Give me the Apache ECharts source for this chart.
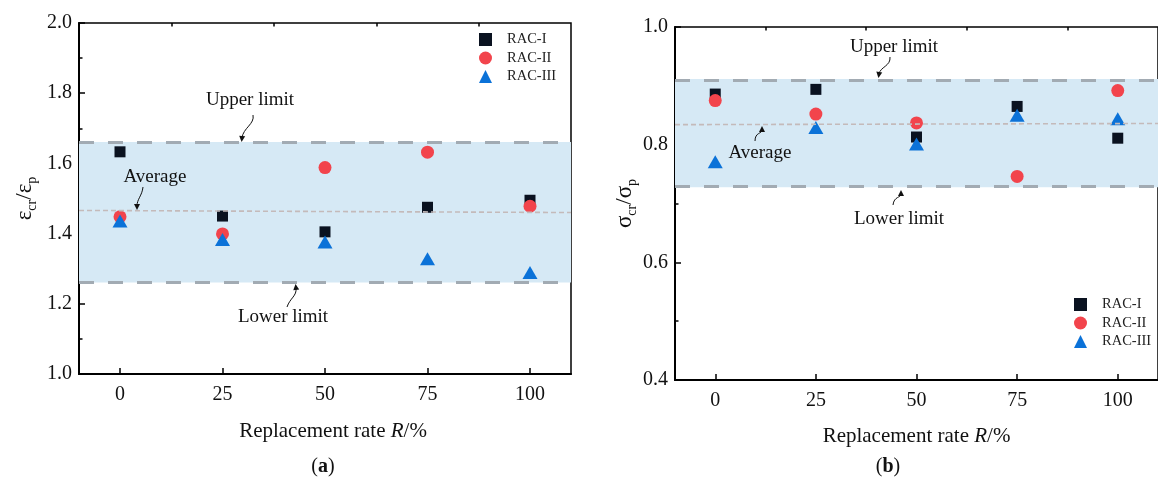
<html>
<head>
    <meta charset="UTF-8">
    <title>RAC ratios</title>
    <script src="https://cdn.jsdelivr.net/npm/echarts@6/dist/echarts.min.js"></script>
</head>

<body style="margin:0;background:#fff;">
    <div id="container" style="width: 1158px;height:487px;"></div>
</body>

<script>
    // replacement rates (x) and measured ratios
    var rates = [0, 25, 50, 75, 100];
    // (a) epsilon_cr / epsilon_p
    var racI_a = [1.633, 1.450, 1.405, 1.475, 1.495];
    var racII_a = [1.448, 1.399, 1.588, 1.632, 1.478];
    var racIII_a = [1.436, 1.383, 1.376, 1.328, 1.289];
    var limits_a = [1.265, 1.658];
    var average_a = [[-10, 1.466], [110, 1.460]];
    // (b) sigma_cr / sigma_p
    var racI_b = [0.886, 0.894, 0.813, 0.865, 0.811];
    var racII_b = [0.875, 0.852, 0.837, 0.746, 0.892];
    var racIII_b = [0.771, 0.829, 0.801, 0.850, 0.844];
    var limits_b = [0.730, 0.910];
    var average_b = [[-10, 0.834], [110, 0.836]];
    var minorX = [12.5, 37.5, 62.5, 87.5];

    var FONT = '"Liberation Serif", "DejaVu Serif", serif';
    var colI = '#0a1220', colII = '#f2444c', colIII = '#0b72d8';

    function pts(ys) {
        return rates.map(function (r, i) { return [r, ys[i]]; });
    }

    function xAxes(grid, nameGap, pad) {
        return [{
            type: 'value', gridIndex: grid, min: -10, max: 110,
            splitLine: { show: false },
            axisLine: { onZero: false, lineStyle: { color: '#000', width: 2 } },
            axisTick: { inside: true, length: 6, customValues: rates, lineStyle: { color: '#000', width: 1.5 } },
            axisLabel: { customValues: rates, margin: 11, fontFamily: FONT, fontSize: 20, color: '#111' },
            name: '{n|Replacement rate }{i|R}{n|/%}',
            nameLocation: 'middle', nameGap: nameGap,
            nameTextStyle: {
                padding: pad,
                rich: {
                    n: { fontFamily: FONT, fontSize: 21, color: '#111' },
                    i: { fontFamily: FONT, fontSize: 21, fontStyle: 'italic', color: '#111' }
                }
            }
        }, {
            type: 'value', gridIndex: grid, min: -10, max: 110,
            splitLine: { show: false },
            axisLine: { show: false, onZero: false },
            axisTick: { inside: true, length: 3.5, customValues: minorX, lineStyle: { color: '#000', width: 1.5 } },
            axisLabel: { show: false }
        }];
    }

    function yAxis(grid, min, max, sym, gap) {
        return {
            type: 'value', gridIndex: grid, min: min, max: max, interval: 0.2,
            splitLine: { show: false },
            axisLine: { show: true, onZero: false, lineStyle: { color: '#000', width: 2 } },
            axisTick: { inside: true, length: 6, lineStyle: { color: '#000', width: 1.5 } },
            minorTick: { show: true, splitNumber: 2, length: 3.5, lineStyle: { color: '#000', width: 1.5 } },
            axisLabel: { margin: 7, fontFamily: FONT, fontSize: 20, color: '#111',
                formatter: function (v) { return v.toFixed(1); } },
            name: '{g|' + sym + '}{s|cr}{g|/' + sym + '}{s|p}',
            nameLocation: 'middle', nameRotate: 90, nameGap: gap,
            nameTextStyle: {
                rich: {
                    g: { fontFamily: FONT, fontSize: 23, color: '#111', lineHeight: 24, verticalAlign: 'bottom' },
                    s: { fontFamily: FONT, fontSize: 14, color: '#111', lineHeight: 14, verticalAlign: 'bottom', padding: [0, 0, -3, 0] }
                }
            }
        };
    }

    function bandSeries(xi, yi, lim, avg) {
        return [{
            type: 'line', xAxisIndex: xi, yAxisIndex: yi, data: [], silent: true,
            markArea: {
                silent: true,
                itemStyle: { color: '#d6e9f5' },
                data: [[{ yAxis: lim[0] - 0.004 * (yi === 0 ? 1 : 0.6) }, { yAxis: lim[1] + 0.003 * (yi === 0 ? 1 : 0.6) }]]
            },
            markLine: {
                silent: true, symbol: 'none', label: { show: false },
                lineStyle: { color: '#a2abb3', width: 3, type: [15, 14] },
                data: [{ yAxis: lim[0] }, { yAxis: lim[1] }]
            }
        }, {
            type: 'line', xAxisIndex: xi, yAxisIndex: yi, data: avg, z: 5,
            symbol: 'none', silent: true,
            lineStyle: { color: '#c4baba', width: 1.6, type: [5, 3] }
        }];
    }

    function scatter(name, xi, yi, ys, sym, size, color) {
        return {
            name: name, type: 'scatter', xAxisIndex: xi, yAxisIndex: yi,
            data: pts(ys), symbol: sym, symbolSize: size, z: 3,
            itemStyle: { color: color, opacity: 1 }
        };
    }

    function arrow(x1, y1, cx1, cy1, cx2, cy2, x2, y2) {
        var dx = x2 - cx2, dy = y2 - cy2, l = Math.sqrt(dx * dx + dy * dy);
        dx /= l; dy /= l;
        var tx = x2 + dx * 4, ty = y2 + dy * 4;
        return [{
            type: 'bezierCurve', silent: true, z: 100,
            shape: { x1: x1, y1: y1, cpx1: cx1, cpy1: cy1, cpx2: cx2, cpy2: cy2, x2: x2, y2: y2 },
            style: { stroke: '#111', lineWidth: 1, fill: null }
        }, {
            type: 'polygon', silent: true, z: 100,
            shape: { points: [[tx, ty], [x2 - dx * 2 - dy * 3, y2 - dy * 2 + dx * 3], [x2 - dx * 2 + dy * 3, y2 - dy * 2 - dx * 3]] },
            style: { fill: '#111' }
        }];
    }

    function note(text, x, y) {
        return {
            type: 'text', silent: true, x: x, y: y, z: 100,
            style: { text: text, fontFamily: FONT, fontSize: 19, fill: '#111', align: 'center', verticalAlign: 'middle' }
        };
    }

    function caption(letter, x, y) {
        return {
            type: 'text', silent: true, x: x, y: y, z: 100,
            style: {
                text: '{n|(}{b|' + letter + '}{n|)}', align: 'center', verticalAlign: 'middle',
                rich: {
                    n: { fontFamily: FONT, fontSize: 20, fill: '#111' },
                    b: { fontFamily: FONT, fontSize: 20, fontWeight: 'bold', fill: '#111' }
                }
            }
        };
    }

    var legendData = [{ name: 'RAC-I', icon: 'rect' }, { name: 'RAC-II', icon: 'circle' }, { name: 'RAC-III', icon: 'triangle' }];
    function legend(left, top) {
        return {
            left: left, top: top, orient: 'vertical', itemWidth: 13, itemHeight: 13, itemGap: 3.5,
            padding: 0, selectedMode: false, data: legendData,
            textStyle: { fontFamily: FONT, fontSize: 14.5, color: '#222', padding: [0, 0, 0, 10] }
        };
    }

    var mycharts = echarts.init(document.getElementById('container'));
    var graphics = [
        note('Upper limit', 250, 100), note('Average', 155, 177), note('Lower limit', 283, 317),
        note('Upper limit', 894, 47), note('Average', 760, 153), note('Lower limit', 899, 219),
        caption('a', 323, 467), caption('b', 888, 467)
    ].concat(
        arrow(253, 115, 255, 124, 243, 128, 242, 138),
        arrow(143, 187, 142, 196, 137, 199, 137, 206),
        arrow(287, 307, 290, 298, 297, 296, 296, 288),
        arrow(890, 57, 891, 66, 880, 67, 879, 74),
        arrow(755, 141, 755, 132, 762, 134, 762, 130),
        arrow(893, 205, 894, 196, 901, 198, 901, 194)
    );

    var option = {
        animation: false,
        backgroundColor: '#fff',
        grid: [
            { left: 79, top: 23, width: 492, height: 351, show: true, borderColor: '#000', borderWidth: 1.5, backgroundColor: 'transparent' },
            { left: 675, top: 27, width: 490, height: 353, show: true, borderColor: '#000', borderWidth: 1.5, backgroundColor: 'transparent' }
        ],
        legend: [legend(479, 32), legend(1074, 297)],
        xAxis: xAxes(0, 47, [0, 0, 0, 16]).concat(xAxes(1, 46, [0, 0, 0, 0])),
        yAxis: [yAxis(0, 1.0, 2.0, 'ε', 43), yAxis(1, 0.4, 1.0, 'σ', 29)],
        series: [].concat(
            bandSeries(0, 0, limits_a, average_a),
            [scatter('RAC-I', 0, 0, racI_a, 'rect', 11, colI),
             scatter('RAC-II', 0, 0, racII_a, 'circle', 13, colII),
             scatter('RAC-III', 0, 0, racIII_a, 'triangle', [15, 13], colIII)],
            bandSeries(2, 1, limits_b, average_b),
            [scatter('RAC-I', 2, 1, racI_b, 'rect', 11, colI),
             scatter('RAC-II', 2, 1, racII_b, 'circle', 13, colII),
             scatter('RAC-III', 2, 1, racIII_b, 'triangle', [15, 13], colIII)]
        ),
        graphic: graphics
    };
    mycharts.setOption(option);
</script>
</html>
